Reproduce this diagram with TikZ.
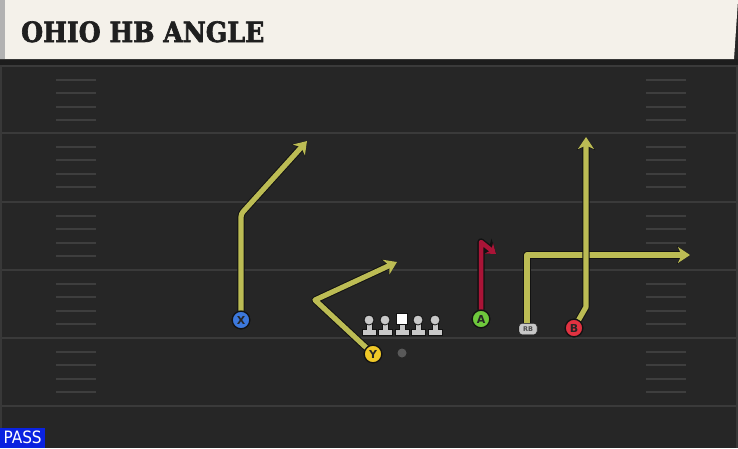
\documentclass[tikz,border=0pt]{standalone}
\usepackage{fontspec}
\setmainfont{DejaVu Sans}
\newfontfamily\titlefont{DejaVu Serif Condensed}[FakeBold=2.2]
\newfontfamily\passfont{DejaVu Sans Condensed}
\usetikzlibrary{arrows.meta}
\definecolor{fieldbg}{HTML}{262626}
\definecolor{headbg}{HTML}{F4F1EA}
\definecolor{fieldline}{HTML}{3A3A3A}
\definecolor{hashc}{HTML}{3E3E3E}
\definecolor{routeY}{RGB}{188,188,84}
\definecolor{routeR}{RGB}{170,20,55}
\definecolor{routeedge}{HTML}{121212}
\definecolor{xblue}{RGB}{60,120,220}
\definecolor{yyellow}{RGB}{240,200,40}
\definecolor{agreen}{RGB}{110,200,60}
\definecolor{bred}{RGB}{225,50,65}
\definecolor{passblue}{HTML}{0A22E0}
\definecolor{olgray}{HTML}{C8C8C8}
\tikzset{
  player/.style={circle, draw=routeedge, line width=1.2pt, minimum size=17.5pt, inner sep=0pt,
    font=\fontsize{11}{11}\selectfont\bfseries, text=black!85},
  route/.style={line width=5.2pt, draw=#1, line join=round,
    preaction={draw=routeedge, line width=7.2pt, line join=round, -{Stealth[length=13pt,width=18pt,inset=4pt]}},
    -{Stealth[length=12pt,width=16pt,inset=3.5pt]}},
  route/.default=routeY,
  yardline/.style={fieldline, line width=2pt},
  hashmark/.style={hashc, line width=2pt},
  rbbox/.style={draw=routeedge, fill=olgray, rounded corners=3pt, minimum width=18pt,
    minimum height=11pt, inner sep=0pt, font=\fontsize{6.5}{6.5}\selectfont\bfseries, text=black!70},
  lineman/.pic={
    \fill[olgray, draw=routeedge, line width=0.8pt]
      (-7,10) -- (-7,4.5) -- (-3,4.5) -- (-3,-3) -- (3,-3) -- (3,4.5) -- (7,4.5) -- (7,10) -- cycle;
    \fill[olgray, draw=routeedge, line width=0.8pt] (0,-5) circle (5);
  },
  centerman/.pic={
    \fill[olgray, draw=routeedge, line width=0.8pt]
      (-7,10) -- (-7,4.5) -- (-3,4.5) -- (-3,-1) -- (3,-1) -- (3,4.5) -- (7,4.5) -- (7,10) -- cycle;
    \fill[white, draw=routeedge, line width=0.8pt] (-5.5,-12) rectangle (5.5,-1);
  }
}
\begin{document}
\begin{tikzpicture}[x=1pt,y=-1pt]
\useasboundingbox (0,0) rectangle (738,448);
% field
\fill[fieldbg] (0,0) rectangle (738,448);
\fill[black!25!fieldbg] (0,59) rectangle (738,65);
\fill[fieldbg!80!gray] (0,65) rectangle (2,448);
\fill[fieldbg!80!gray] (736,65) rectangle (738,448);
% yard lines
\foreach \y in {66,133,202,270,338,406} \draw[yardline] (2,\y) -- (736,\y);
% hashes
\foreach \y in {66,133,202,270,338} {
  \foreach \k in {1,2,3,4} {
    \draw[hashmark] (56,\y+13.6*\k) -- (96,\y+13.6*\k);
    \draw[hashmark] (646,\y+13.6*\k) -- (686,\y+13.6*\k);
  }
}
% header
\fill[headbg] (0,0) -- (738,0) -- (734,59) -- (0,59) -- cycle;
\fill[black!30] (0,0) rectangle (5,59);
\node[anchor=base west, inner sep=0pt, font=\titlefont\bfseries\fontsize{28}{28}\selectfont, text=black!88] (title) at (21,42) {OHIO HB ANGLE};
% line
\pic at (369,325) {lineman};
\pic at (385,325) {lineman};
\pic at (402,325) {centerman};
\pic at (418,325) {lineman};
\pic at (435,325) {lineman};
\node[circle, fill=gray!70!black, minimum size=9pt, inner sep=0pt] (ball) at (402,353) {};
% players
\node[player, fill=xblue] (X) at (241,320) {X};
\node[player, fill=yyellow] (Y) at (373,354) {Y};
\node[player, fill=agreen] (A) at (481,319) {A};
\node[player, fill=bred] (B) at (574,328) {B};
\node[rbbox] (RB) at (528,329) {RB};
% route ends
\coordinate (xc) at (241,214);
\coordinate (xe) at (307,141);
\coordinate (yc) at (315,300);
\coordinate (ye) at (397,262);
\coordinate (ac) at (481,242);
\coordinate (ae) at (496,254);
\coordinate (rbc) at (527,255);
\coordinate (rbe) at (690,255);
\coordinate (bc) at (586,307);
\coordinate (be) at (586,137);
% routes
\draw[route, rounded corners=3pt] (X) -- (xc) -- (xe);
\draw[route] (Y) -- (yc) -- (ye);
\draw[route=routeR, line width=4.5pt, preaction={draw=routeedge, line width=6.3pt, line join=round, -{Stealth[length=9.5pt,width=14pt,inset=3pt]}}, -{Stealth[length=9pt,width=13pt,inset=3pt]}] (A) -- (ac) -- (ae);
\draw[route] (RB.north -| rbc) -- (rbc) -- (rbe);
\draw[route] (B) -- (bc) -- (be);
\node[player, fill=xblue] at (X) {X};
\node[player, fill=yyellow] at (Y) {Y};
\node[player, fill=agreen] at (A) {A};
\node[player, fill=bred] at (B) {B};
\node[rbbox] at (RB) {RB};
% pass label
\node[fill=passblue, text=white, anchor=south west, minimum width=45pt, minimum height=20pt, inner sep=0pt,
  font=\passfont\fontsize{17}{17}\selectfont] (pass) at (0,448) {PASS};
\end{tikzpicture}
\end{document}
